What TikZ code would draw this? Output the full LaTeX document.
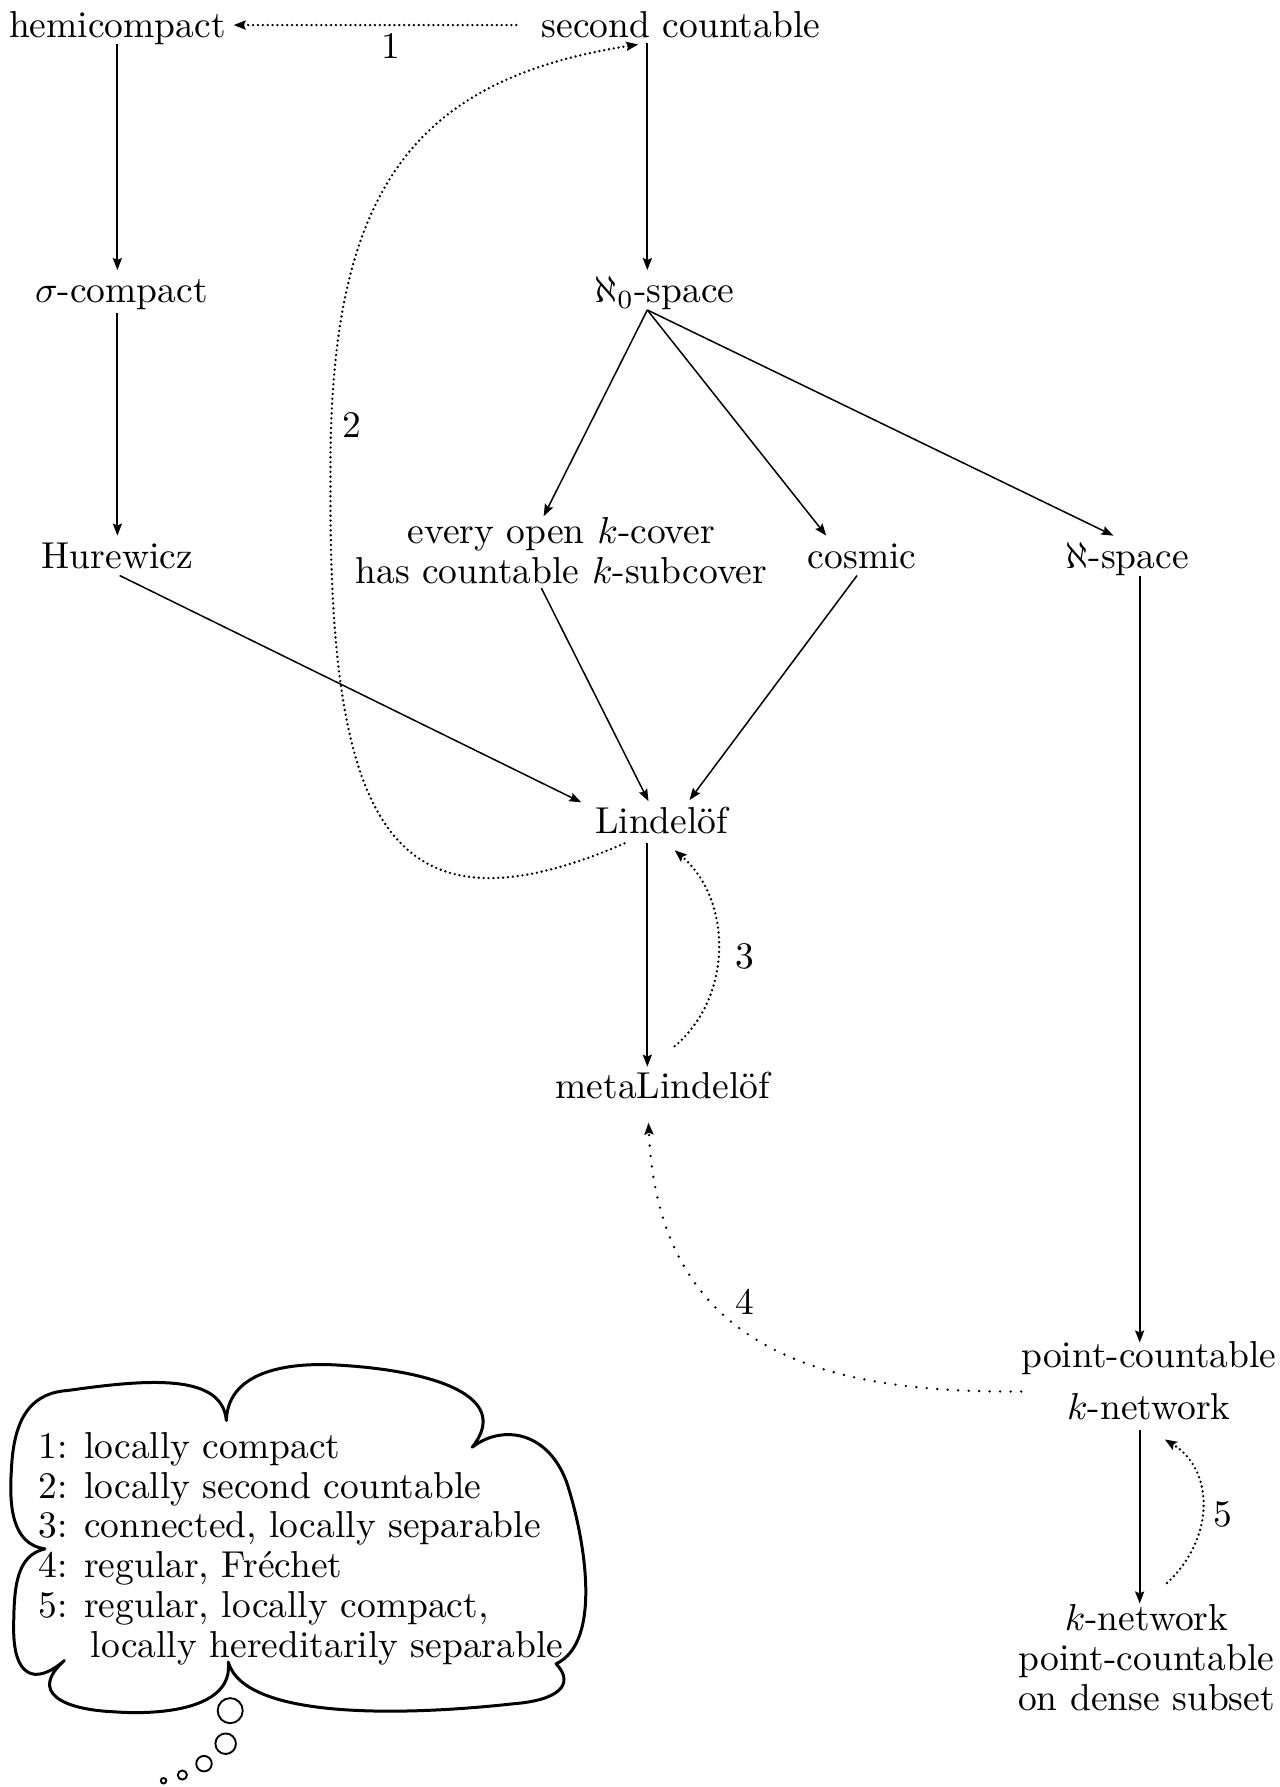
\documentclass[tikz,border=0pt]{standalone}
\usetikzlibrary{arrows.meta}
\begin{document}
\begin{tikzpicture}[x=0.30395pt,y=-0.30395pt,
  txt/.style={inner sep=0pt,anchor=base,font=\fontsize{10}{10.6}\selectfont},
  mtxt/.style={inner sep=0pt,anchor=north,align=center,font=\fontsize{10}{10.6}\selectfont},
  lbl/.style={inner sep=0pt,font=\fontsize{10}{10.6}\selectfont},
  tip/.style={-{Stealth[length=3.2pt,width=2.4pt,inset=0.5pt]}},
  arr/.style={line width=0.4pt,tip},
  varr/.style={line width=0.55pt,tip},
  dotarr/.style={line width=0.7pt,line cap=round,dash pattern=on 0pt off 1.3pt,tip},
  sparsedot/.style={line width=0.7pt,line cap=round,dash pattern=on 0pt off 2.8pt,tip},
  cloudline/.style={line width=0.8pt,line join=round},
  bubble/.style={line width=0.5pt}]
\useasboundingbox (0,0) rectangle (1123,1568);

% ---------- nodes ----------
\node[txt] (hemi) at (103,32.5) {hemicompact};
\node[txt] (sc) at (597.5,32.5) {second countable};
\node[txt] (sig) at (106.5,265.5) {$\sigma$-compact};
\node[txt] (al0) at (583,265.5) {$\aleph_0$-space};
\node[txt] (hur) at (103,498.5) {Hurewicz};
\node[mtxt] (kc) at (492.5,453.2) {every open $k$-cover\\has countable $k$-subcover};
\node[txt] (cos) at (756.5,498.5) {cosmic};
\node[txt] (al) at (989,498.5) {$\aleph$-space};
\node[txt] (lin) at (580.5,731) {Lindel\"of};
\node[txt] (meta) at (581.5,964) {metaLindel\"of};
\node[mtxt] (pc) at (1008,1176.2) {point-countable\\[3.4pt]$k$-network};
\node[mtxt] (kn) at (1006,1407.2) {$k$-network\\point-countable\\on dense subset};

% ---------- ports ----------
\coordinate (sc-w) at (453,22);
\coordinate (hemi-e) at (205,22);
\coordinate (hemi-s) at (103,39);
\coordinate (sig-n) at (103,237);
\coordinate (sig-s) at (103,275);
\coordinate (hur-n) at (103,470);
\coordinate (sc-s) at (568,38);
\coordinate (al0-n) at (568,237);
\coordinate (al0-s) at (568,272);
\coordinate (kc-n) at (477,453);
\coordinate (cos-n) at (725,470);
\coordinate (al-n) at (977,470);
\coordinate (hur-se) at (105,505);
\coordinate (lin-w) at (510,704);
\coordinate (kc-s) at (475,516);
\coordinate (lin-n) at (569,703);
\coordinate (cos-s) at (752,505);
\coordinate (lin-ne) at (605,702);
\coordinate (lin-s) at (568,740);
\coordinate (meta-n) at (568,936);
\coordinate (al-s) at (1000,505);
\coordinate (pc-n) at (1000,1178);
\coordinate (pc-s) at (1000,1255);
\coordinate (kn-n) at (1000,1407);
\coordinate (lin-sw) at (548,740);
\coordinate (sc-sw) at (560,39);
\coordinate (meta-ne) at (592,918);
\coordinate (lin-se) at (592,746);
\coordinate (pc-w) at (896,1221);
\coordinate (meta-s) at (569,985);
\coordinate (kn-ne) at (1024,1389);
\coordinate (pc-se) at (1022,1263);

% ---------- solid arrows ----------
\draw[varr] (hemi-s) -- (sig-n);
\draw[varr] (sig-s) -- (hur-n);
\draw[varr] (sc-s) -- (al0-n);
\draw[arr] (al0-s) -- (kc-n);
\draw[arr] (al0-s) -- (cos-n);
\draw[arr] (al0-s) -- (al-n);
\draw[arr] (hur-se) -- (lin-w);
\draw[arr] (kc-s) -- (lin-n);
\draw[arr] (cos-s) -- (lin-ne);
\draw[varr] (lin-s) -- (meta-n);
\draw[varr] (al-s) -- (pc-n);
\draw[varr] (pc-s) -- (kn-n);

% ---------- dotted arrows ----------
\draw[dotarr] (sc-w) -- (hemi-e);
\draw[dotarr] (lin-sw) .. controls (340,830) and (288,720) .. (290,420)
                       .. controls (288,170) and (360,70) .. (sc-sw);
\draw[dotarr] (meta-ne) .. controls (643,875) and (643,790) .. (lin-se);
\draw[sparsedot] (pc-w) .. controls (730,1222) and (578,1190) .. (meta-s);
\draw[dotarr] (kn-ne) .. controls (1066,1350) and (1066,1290) .. (pc-se);

% ---------- labels ----------
\node[lbl] (l1) at (343,40) {1};
\node[lbl] (l2) at (309,373) {2};
\node[lbl] (l3) at (654,839) {3};
\node[lbl] (l4) at (653.5,1142) {4};
\node[lbl] (l5) at (1073,1329) {5};

% ---------- thought cloud ----------
\draw[cloudline] (39.4,1359)
  .. controls (10,1355) and (8,1320) .. (10,1290)
  .. controls (12,1240) and (30,1222) .. (60,1220)
  .. controls (130,1210) and (195,1205) .. (198.6,1246.4)
  .. controls (200,1200) and (260,1195) .. (300,1198)
  .. controls (380,1203) and (450,1225) .. (414.4,1269.8)
  .. controls (440,1250) and (480,1255) .. (497,1300)
  .. controls (512,1345) and (530,1440) .. (488,1459.9)
  .. controls (505,1478) and (490,1492) .. (450,1495)
  .. controls (360,1505) and (215,1510) .. (200.3,1458.4)
  .. controls (205,1500) and (140,1505) .. (100,1502)
  .. controls (55,1500) and (25,1485) .. (56.5,1457)
  .. controls (30,1480) and (12,1470) .. (12,1430)
  .. controls (12,1390) and (15,1365) .. (39.4,1359) -- cycle;
\node[inner sep=0pt,anchor=north west,align=left,font=\fontsize{10}{10.6}\selectfont] (legend) at (33,1256.2)
  {1: locally compact\\
   2: locally second countable\\
   3: connected, locally separable\\
   4: regular, Fr\'echet\\
   5: regular, locally compact,\\
   \hspace*{14pt}locally hereditarily separable};
\draw[bubble] (202,1501) circle (11);
\draw[bubble] (198,1530) circle (9);
\draw[bubble] (179,1547.5) circle (6.8);
\draw[bubble] (160,1557.5) circle (4);
\draw[bubble] (143.5,1562.5) circle (2.4);
\end{tikzpicture}
\end{document}
